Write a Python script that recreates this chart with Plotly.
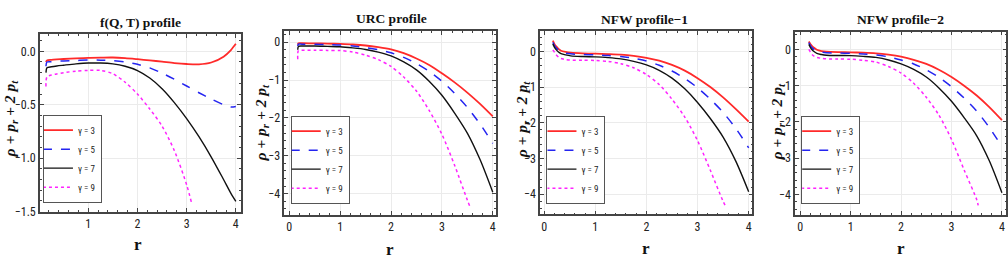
import plotly.graph_objects as go

# ---------------- data ----------------
gammas = ["γ = 3", "γ = 5", "γ = 7", "γ = 9"]
titles = ["f(Q, T) profile", "URC profile", "NFW profile\u22121", "NFW profile\u22122"]

# Panel 1: f(Q,T)
p1_r = [0.14, 0.16, 0.25, 0.36, 0.5, 0.75, 1.0, 1.25, 1.5, 1.75, 2.0, 2.25, 2.5, 2.75, 3.0, 3.25, 3.5, 3.75, 3.9, 4.0]
p1_g3 = [-0.10, -0.085, -0.08, -0.076, -0.072, -0.066, -0.061, -0.059, -0.058, -0.064, -0.074, -0.085, -0.097, -0.11, -0.119, -0.122, -0.105, -0.05, 0.012, 0.07]
p1_g5 = [-0.14, -0.10, -0.097, -0.093, -0.09, -0.086, -0.082, -0.083, -0.088, -0.10, -0.122, -0.155, -0.204, -0.262, -0.325, -0.388, -0.447, -0.50, -0.522, -0.517]
p1_g7 = [-0.20, -0.155, -0.145, -0.137, -0.13, -0.118, -0.11, -0.11, -0.118, -0.14, -0.18, -0.25, -0.35, -0.48, -0.63, -0.80, -0.99, -1.20, -1.33, -1.405]
p1_r9 = [0.14, 0.16, 0.25, 0.36, 0.5, 0.75, 1.0, 1.25, 1.5, 1.75, 2.0, 2.25, 2.5, 2.75, 3.0, 3.1]
p1_g9 = [-0.33, -0.24, -0.222, -0.212, -0.20, -0.186, -0.179, -0.179, -0.21, -0.29, -0.40, -0.54, -0.70, -0.93, -1.25, -1.42]

# Panel 2: URC
p2_r = [0.167, 0.18, 0.25, 0.5, 0.75, 1.0, 1.25, 1.5, 1.75, 2.0, 2.25, 2.5, 2.75, 3.0, 3.25, 3.5, 3.75, 4.0]
p2_g3 = [-0.06, -0.025, -0.025, -0.03, -0.035, -0.045, -0.06, -0.086, -0.13, -0.19, -0.29, -0.43, -0.60, -0.82, -1.06, -1.33, -1.63, -1.96]
p2_g5 = [-0.10, -0.05, -0.05, -0.05, -0.06, -0.07, -0.10, -0.14, -0.20, -0.28, -0.40, -0.56, -0.77, -1.03, -1.35, -1.72, -2.16, -2.67]
p2_g7 = [-0.20, -0.11, -0.10, -0.10, -0.11, -0.12, -0.15, -0.19, -0.26, -0.36, -0.52, -0.73, -1.03, -1.40, -1.87, -2.40, -3.10, -3.96]
p2_r9 = [0.167, 0.18, 0.25, 0.5, 0.75, 1.0, 1.25, 1.5, 1.75, 2.0, 2.25, 2.5, 2.75, 3.0, 3.25, 3.5, 3.55]
p2_g9 = [-0.45, -0.22, -0.21, -0.21, -0.215, -0.22, -0.26, -0.34, -0.46, -0.64, -0.92, -1.29, -1.80, -2.43, -3.25, -4.17, -4.34]

# Panel 3: NFW-1
p3_r = [0.17, 0.2, 0.23, 0.28, 0.33, 0.42, 0.52, 0.75, 1.0, 1.25, 1.5, 1.75, 2.0, 2.25, 2.5, 2.75, 3.0, 3.25, 3.5, 3.75, 4.0]
p3_g3 = [0.30, 0.21, 0.145, 0.07, 0.018, -0.015, -0.036, -0.055, -0.064, -0.075, -0.09, -0.125, -0.18, -0.26, -0.38, -0.54, -0.75, -1.00, -1.29, -1.62, -1.97]
p3_g5 = [0.25, 0.17, 0.11, 0.04, -0.02, -0.05, -0.07, -0.09, -0.10, -0.115, -0.145, -0.195, -0.27, -0.39, -0.55, -0.76, -1.02, -1.34, -1.71, -2.16, -2.70]
p3_g7 = [0.21, 0.12, 0.055, -0.02, -0.064, -0.10, -0.127, -0.145, -0.155, -0.175, -0.21, -0.28, -0.38, -0.53, -0.75, -1.05, -1.43, -1.88, -2.40, -3.08, -3.93]
p3_r9 = [0.17, 0.2, 0.23, 0.28, 0.33, 0.42, 0.52, 0.75, 1.0, 1.25, 1.5, 1.75, 2.0, 2.25, 2.5, 2.75, 3.0, 3.25, 3.5, 3.55]
p3_g9 = [0.04, -0.02, -0.09, -0.16, -0.20, -0.23, -0.245, -0.25, -0.255, -0.28, -0.345, -0.46, -0.65, -0.93, -1.34, -1.84, -2.50, -3.33, -4.20, -4.34]

# Panel 4: NFW-2
p4_r = [0.17, 0.2, 0.23, 0.28, 0.33, 0.42, 0.52, 0.75, 1.0, 1.25, 1.5, 1.75, 2.0, 2.25, 2.5, 2.75, 3.0, 3.25, 3.5, 3.75, 4.0]
p4_g3 = [0.22, 0.15, 0.10, 0.04, -0.01, -0.045, -0.063, -0.075, -0.08, -0.09, -0.108, -0.145, -0.20, -0.285, -0.40, -0.56, -0.76, -1.00, -1.27, -1.59, -1.95]
p4_g5 = [0.19, 0.11, 0.05, -0.005, -0.045, -0.075, -0.09, -0.10, -0.108, -0.125, -0.15, -0.205, -0.29, -0.40, -0.56, -0.77, -1.03, -1.34, -1.70, -2.15, -2.68]
p4_g7 = [0.14, 0.06, 0.0, -0.065, -0.11, -0.14, -0.16, -0.168, -0.17, -0.19, -0.22, -0.29, -0.40, -0.55, -0.76, -1.06, -1.43, -1.88, -2.38, -3.07, -3.95]
p4_r9 = [0.17, 0.2, 0.23, 0.28, 0.33, 0.42, 0.52, 0.75, 1.0, 1.25, 1.5, 1.75, 2.0, 2.25, 2.5, 2.75, 3.0, 3.25, 3.5, 3.53]
p4_g9 = [0.0, -0.07, -0.135, -0.19, -0.22, -0.245, -0.26, -0.265, -0.27, -0.30, -0.35, -0.47, -0.65, -0.93, -1.32, -1.81, -2.48, -3.32, -4.14, -4.30]

# axis tick values / labels
p1_xticks = [1, 2, 3, 4]
p1_yticks = [0.0, -0.5, -1.0, -1.5]
p1_ylabels = ["0.0", "\u22120.5", "\u22121.0", "\u22121.5"]
pN_xticks = [0, 1, 2, 3, 4]
pN_yticks = [0, -1, -2, -3, -4]
pN_ylabels = ["0", "\u22121", "\u22122", "\u22123", "\u22124"]

# ---------------- layout geometry ----------------
W, H = 1008, 273
frames = [  # left, right, top, bottom in px
    (40, 241, 35, 217.3),
    (284.7, 496.3, 31.7, 220.5),
    (540.7, 753, 31.7, 220),
    (796, 1007.3, 32.5, 220.7),
]
xranges = [[0.018, 4.10], [-0.095, 4.06], [-0.078, 4.07], [-0.10, 4.087]]
yranges = [[-1.502, 0.161], [-4.56, 0.30], [-4.564, 0.573], [-4.565, 0.49]]
legend_pos = [(43, 208), (291, 209), (547, 209), (802, 209)]  # left, bottom
title_pos = [(140.5, 23), (391.7, 19.5), (645.5, 20), (901.8, 20)]
ytitle_pos = [(10.5, 121), (262, 126), (523, 122), (778.5, 125)]
xtitle_pos = [(138, 251), (390, 256), (646.7, 255), (901.7, 255)]

colors = ["#ff2a2a", "#2424f0", "#111111", "#ff22ff"]
dashes = ["solid", "dash", "solid", "dot"]
widths = [1.8, 1.5, 1.4, 1.5]

panels = [
    (p1_r, [p1_g3, p1_g5, p1_g7], p1_r9, p1_g9),
    (p2_r, [p2_g3, p2_g5, p2_g7], p2_r9, p2_g9),
    (p3_r, [p3_g3, p3_g5, p3_g7], p3_r9, p3_g9),
    (p4_r, [p4_g3, p4_g5, p4_g7], p4_r9, p4_g9),
]

NARROW = "Liberation Sans Narrow, Arial Narrow, Roboto Condensed, Liberation Sans, sans-serif"
TICKFONT = dict(family=NARROW, size=12, color="#222")

fig = go.Figure()
for i, (rr, ys, r9, y9) in enumerate(panels):
    n = "" if i == 0 else str(i + 1)
    leg = "legend" + n
    series = [(rr, ys[0]), (rr, ys[1]), (rr, ys[2]), (r9, y9)]
    for k, (xx, yy) in enumerate(series):
        fig.add_trace(go.Scatter(
            x=xx, y=yy, mode="lines", name=gammas[k],
            line=dict(color=colors[k], dash=dashes[k], width=widths[k], shape="spline", smoothing=0.8),
            xaxis="x" + n, yaxis="y" + n, legend=leg, showlegend=True,
        ))

layout = dict(width=W, height=H, margin=dict(l=0, r=0, t=0, b=0),
              paper_bgcolor="white", plot_bgcolor="white", annotations=[])

for i in range(4):
    n = "" if i == 0 else str(i + 1)
    l, r, t, b = frames[i]
    common = dict(showline=True, mirror="allticks", linecolor="#444", linewidth=1.5,
                  ticks="inside", ticklen=4, tickwidth=1, tickcolor="#444",
                  showgrid=True, gridcolor="#ebebeb", gridwidth=1, zeroline=False,
                  tickfont=TICKFONT)
    if i == 0:
        xt, yt, ylab, ydt = p1_xticks, p1_yticks, p1_ylabels, 0.1
    else:
        xt, yt, ylab, ydt = pN_xticks, pN_yticks, pN_ylabels, 0.2
    layout["xaxis" + n] = dict(common, domain=[l / W, r / W], range=xranges[i],
                               anchor="y" + n, tickmode="array", tickvals=xt,
                               ticktext=[str(v) for v in xt],
                               minor=dict(ticks="inside", ticklen=2, tickcolor="#444", dtick=0.2, tick0=0, showgrid=False))
    layout["yaxis" + n] = dict(common, domain=[1 - b / H, 1 - t / H], range=yranges[i],
                               anchor="x" + n, tickmode="array", tickvals=yt, ticktext=ylab,
                               minor=dict(ticks="inside", ticklen=2, tickcolor="#444", dtick=ydt, tick0=0, showgrid=False))
    lx, ly = legend_pos[i]
    layout["legend" + n] = dict(x=lx / W, y=1 - ly / H, xanchor="left", yanchor="bottom",
                                bgcolor="white", bordercolor="#555", borderwidth=1,
                                font=dict(family=NARROW, size=9, color="#222"),
                                itemwidth=30, tracegroupgap=0, indentation=-6)
    tx, ty = title_pos[i]
    layout["annotations"].append(dict(text="<b>" + titles[i] + "</b>", x=tx / W, y=1 - ty / H,
                                      xref="paper", yref="paper", showarrow=False,
                                      xanchor="center", yanchor="middle",
                                      font=dict(family="Liberation Serif, serif", size=13.5, color="#111")))
    yx, yy = ytitle_pos[i]
    layout["annotations"].append(dict(
        text="<b><i>\u03c1 + p<sub>r</sub> + 2 p<sub>t</sub></i></b>",
        x=yx / W, y=1 - yy / H, xref="paper", yref="paper", showarrow=False,
        xanchor="center", yanchor="middle", textangle=-90,
        font=dict(family="Liberation Serif, serif", size=15.5, color="#111")))
    xx_, xy_ = xtitle_pos[i]
    layout["annotations"].append(dict(text="<b>r</b>", x=xx_ / W, y=1 - xy_ / H,
                                      xref="paper", yref="paper", showarrow=False,
                                      xanchor="center", yanchor="middle",
                                      font=dict(family="Liberation Serif, serif", size=17, color="#111")))

fig.update_layout(**layout)
fig.write_html("out.html", config={"displayModeBar": False},
               post_script="document.body.style.margin='0';document.body.style.padding='0';")
